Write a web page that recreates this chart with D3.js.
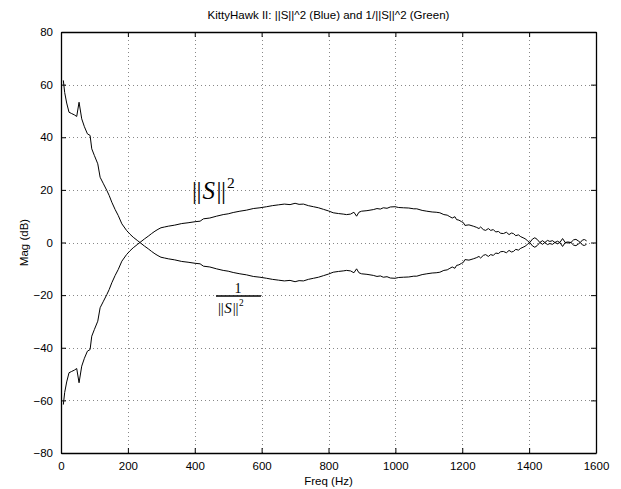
<!DOCTYPE html>
<html>
<head>
<meta charset="utf-8">
<script src="https://cdn.jsdelivr.net/npm/d3@7"></script>
<style>
  body { margin: 0; background: #fff; }
  svg { display: block; }
</style>
</head>
<body>
<div id="chart"></div>
<script>
// frequency samples (Hz)
var freq = [7, 11, 17, 24, 32, 40, 47, 54, 62, 70, 79, 87, 92, 100, 110, 117, 127, 137, 144, 152,
	162, 171, 182, 196, 206, 216, 228, 239, 250, 261, 271, 281, 290, 299, 310, 321, 340, 361, 380, 401,
	416, 426, 445, 465, 485, 500, 515, 535, 555, 575, 595, 615, 632, 650, 668, 685, 700, 712, 725, 740,
	755, 770, 785, 800, 814, 830, 844, 854, 866, 876, 884, 891, 899, 915, 934, 945, 955, 964, 975, 985,
	999, 1010, 1024, 1040, 1055, 1064, 1080, 1094, 1110, 1122, 1133, 1145, 1155, 1163, 1170, 1178, 1183, 1190, 1198, 1203,
	1208, 1220, 1233, 1242, 1250, 1255, 1263, 1270, 1278, 1285, 1293, 1300, 1308, 1315, 1323, 1332, 1340, 1347, 1353, 1360,
	1368, 1375, 1382, 1390, 1396, 1402, 1410, 1417, 1424, 1432, 1440, 1447, 1455, 1462, 1470, 1477, 1485, 1492, 1500, 1508,
	1516, 1525, 1533, 1540, 1547, 1553, 1560, 1566, 1572];

// ||S||^2 in dB (blue)
var sensDb = [-61.6, -57, -53, -49.5, -49, -48.5, -47.9, -53.3, -47, -44, -41.3, -40.7, -35.6, -33, -29.9, -24.8, -22.3, -19.8, -17.9, -15.3,
	-12.5, -10.3, -7.1, -4.6, -3.2, -2, -0.8, 0.3, 1.4, 2.4, 3.4, 4.3, 5.0, 5.6, 5.9, 6.2, 6.6, 7.2, 7.5, 7.9,
	8.1, 9.0, 9.3, 10.0, 10.6, 10.9, 11.4, 11.9, 12.3, 12.9, 13.2, 13.6, 14.0, 14.3, 14.6, 14.4, 14.9, 14.5, 14.6, 14.0,
	13.6, 13.2, 12.6, 12.0, 11.3, 11.0, 10.8, 10.6, 10.8, 11.5, 10.0, 11.5, 11.9, 12.1, 12.5, 12.9, 12.7, 13.2, 13.0, 13.5,
	13.6, 13.3, 13.2, 13.1, 12.8, 12.8, 12.2, 11.9, 11.6, 11.5, 11.3, 10.6, 10.4, 9.8, 9.3, 9.8, 8.7, 8.5, 7.9, 7.6,
	6.5, 6.7, 6.2, 5.8, 5.3, 5.9, 4.9, 4.6, 5.3, 4.6, 4.9, 4.0, 4.2, 3.5, 3.4, 3.9, 3.0, 3.6, 3.4, 2.6,
	2.9, 2.2, 1.8, 1.3, 0.5, 0.0, 1.3, 1.8, 1.2, 0.0, -0.7, 0.0, 0.8, 0.4, 0.7, 0.0, 0.5, 0.0, 1.5, 0.0,
	0.2, 0.0, -1.0, -1.2, -0.6, 0.0, 1.0, 1.1, 0.6];

// 1/||S||^2 in dB (green)
var invSensDb = [61.6, 57, 53, 49.5, 49, 48.5, 47.9, 53.3, 47, 44, 41.3, 40.7, 35.6, 33, 29.9, 24.8, 22.3, 19.8, 17.9, 15.3,
	12.5, 10.3, 7.1, 4.6, 3.2, 2, 0.8, -0.3, -1.4, -2.4, -3.4, -4.3, -5.0, -5.6, -5.9, -6.2, -6.6, -7.2, -7.5, -7.9,
	-8.1, -9.0, -9.3, -10.0, -10.6, -10.9, -11.4, -11.9, -12.3, -12.9, -13.2, -13.6, -14.0, -14.3, -14.6, -14.4, -14.9, -14.5, -14.6, -14.0,
	-13.6, -13.2, -12.6, -12.0, -11.3, -11.0, -10.8, -10.6, -10.8, -11.5, -10.0, -11.5, -11.9, -12.1, -12.5, -12.9, -12.7, -13.2, -13.0, -13.5,
	-13.6, -13.3, -13.2, -13.1, -12.8, -12.8, -12.2, -11.9, -11.6, -11.5, -11.3, -10.6, -10.4, -9.8, -9.3, -9.8, -8.7, -8.5, -7.9, -7.6,
	-6.5, -6.7, -6.2, -5.8, -5.3, -5.9, -4.9, -4.6, -5.3, -4.6, -4.9, -4.0, -4.2, -3.5, -3.4, -3.9, -3.0, -3.6, -3.4, -2.6,
	-2.9, -2.2, -1.8, -1.3, -0.5, 0.0, -1.3, -1.8, -1.2, 0.0, 0.7, 0.0, -0.8, -0.4, -0.7, 0.0, -0.5, 0.0, -1.5, 0.0,
	-0.2, 0.0, 1.0, 1.2, 0.6, 0.0, -1.0, -1.1, -0.6];

var xTicks = [0, 200, 400, 600, 800, 1000, 1200, 1400, 1600];
var yTicks = [-80, -60, -40, -20, 0, 20, 40, 60, 80];

(function() {
	var W = 621, H = 489;
	var mLeft = 61, mRight = 596, mTop = 32, mBottom = 453;
	var sans = '"Liberation Sans", Arial, Helvetica, sans-serif';
	var serif = '"Liberation Serif", "DejaVu Serif", serif';

	var svg = d3.select('#chart').append('svg').attr('width', W).attr('height', H)
		.attr('font-family', sans).attr('fill', '#000');

	var x = d3.scaleLinear().domain([0, 1600]).range([mLeft, mRight]);
	var y = d3.scaleLinear().domain([-80, 80]).range([mBottom, mTop]);

	// grid
	var grid = svg.append('g').attr('stroke', '#555').attr('stroke-width', 0.7).attr('stroke-dasharray', '1,3');
	grid.selectAll('.gx').data(xTicks.slice(1, -1)).enter().append('line')
		.attr('x1', function(d) { return Math.round(x(d)) + 0.5; }).attr('x2', function(d) { return Math.round(x(d)) + 0.5; })
		.attr('y1', mTop).attr('y2', mBottom);
	grid.selectAll('.gy').data(yTicks.slice(1, -1)).enter().append('line')
		.attr('y1', function(d) { return Math.round(y(d)) + 0.5; }).attr('y2', function(d) { return Math.round(y(d)) + 0.5; })
		.attr('x1', mLeft).attr('x2', mRight);

	// axes (inward ticks, box)
	var fmt = function(d) { return d < 0 ? '\u2212' + Math.abs(d) : String(d); };
	var bottomAxis = svg.append('g').attr('transform', 'translate(0,' + mBottom + ')')
		.call(d3.axisBottom(x).tickValues(xTicks).tickSizeInner(-5).tickSizeOuter(0).tickPadding(9).tickFormat(fmt));
	var topAxis = svg.append('g').attr('transform', 'translate(0,' + mTop + ')')
		.call(d3.axisTop(x).tickValues(xTicks).tickSizeInner(-5).tickSizeOuter(0).tickFormat(''));
	var leftAxis = svg.append('g').attr('transform', 'translate(' + mLeft + ',0)')
		.call(d3.axisLeft(y).tickValues(yTicks).tickSizeInner(-5).tickSizeOuter(0).tickPadding(8).tickFormat(fmt));
	var rightAxis = svg.append('g').attr('transform', 'translate(' + mRight + ',0)')
		.call(d3.axisRight(y).tickValues(yTicks).tickSizeInner(-5).tickSizeOuter(0).tickFormat(''));

	[bottomAxis, topAxis, leftAxis, rightAxis].forEach(function(a) {
		a.selectAll('path').attr('stroke', '#000').attr('stroke-width', 1.3);
		a.selectAll('line').attr('stroke', '#000');
		a.selectAll('text').attr('font-size', 11.5).attr('fill', '#000').attr('font-family', sans);
	});

	// curves
	var line = d3.line()
		.x(function(d) { return x(d[0]); })
		.y(function(d) { return y(d[1]); });

	svg.append('path').datum(d3.zip(freq, sensDb))
		.attr('d', line).attr('fill', 'none').attr('stroke', '#000').attr('stroke-width', 1);
	svg.append('path').datum(d3.zip(freq, invSensDb))
		.attr('d', line).attr('fill', 'none').attr('stroke', '#000').attr('stroke-width', 1);

	// titles
	svg.append('text').attr('x', (mLeft + mRight) / 2).attr('y', 19).attr('text-anchor', 'middle')
		.attr('font-size', 11.5).attr('fill', '#000').text('KittyHawk II: ||S||^2 (Blue) and 1/||S||^2 (Green)');
	svg.append('text').attr('x', (mLeft + mRight) / 2).attr('y', 485).attr('text-anchor', 'middle')
		.attr('font-size', 11.5).attr('fill', '#000').text('Freq (Hz)');
	svg.append('text').attr('transform', 'translate(28,' + y(0) + ') rotate(-90)').attr('text-anchor', 'middle')
		.attr('font-size', 11.5).attr('fill', '#000').text('Mag (dB)');

	// math annotations: ||S||^2 and 1/||S||^2
	function normLabel(px, py, size) {
		var t = svg.append('text').attr('x', px).attr('y', py).attr('font-family', serif)
			.attr('font-size', size).attr('fill', '#000');
		t.append('tspan').attr('letter-spacing', -size * 0.02).text('||');
		t.append('tspan').attr('font-style', 'italic').attr('dx', size * 0.06).text('S');
		t.append('tspan').attr('letter-spacing', -size * 0.02).attr('dx', size * 0.06).text('||');
		t.append('tspan').attr('font-size', size * 0.62).attr('dy', -size * 0.45).attr('dx', size * 0.06).text('2');
	}
	normLabel(192, 199, 25);

	svg.append('line').attr('x1', 216).attr('x2', 261).attr('y1', 296).attr('y2', 296)
		.attr('stroke', '#000').attr('stroke-width', 1.3);
	svg.append('text').attr('x', 238).attr('y', 293).attr('text-anchor', 'middle')
		.attr('font-family', serif).attr('font-size', 14).attr('fill', '#000').text('1');
	normLabel(218, 313, 15);
})();
</script>
</body>
</html>
